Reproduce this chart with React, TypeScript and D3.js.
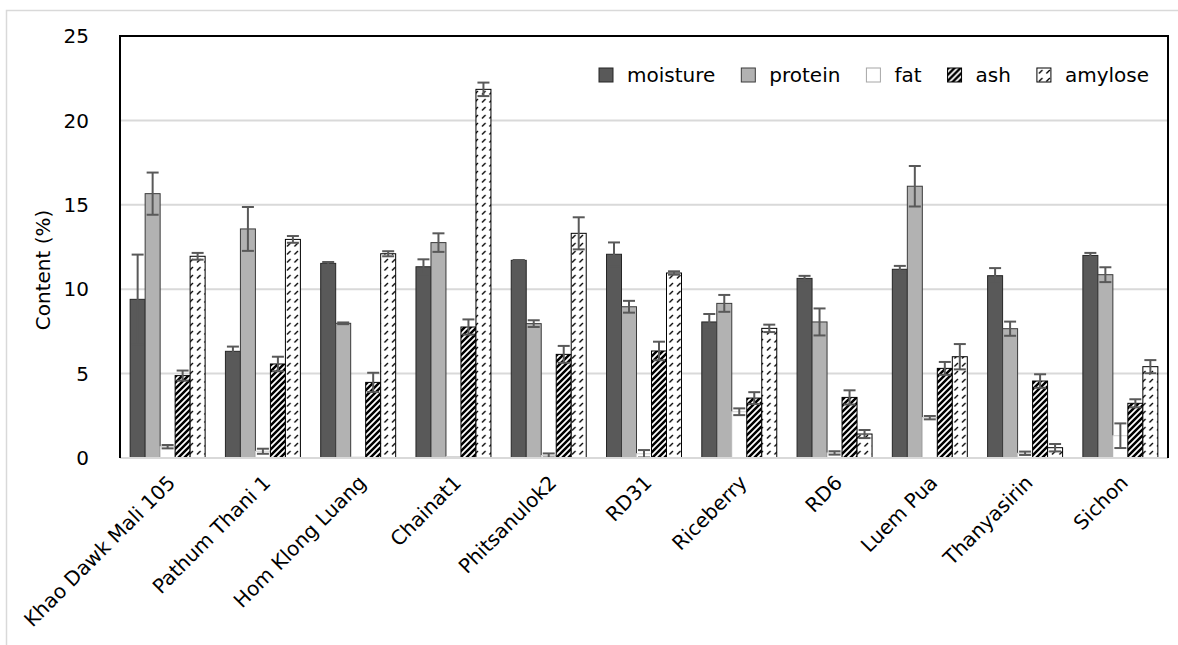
import * as d3 from "d3";
import { useEffect, useRef } from "react";

const categories = [
  "Khao Dawk Mali 105",
  "Pathum Thani 1",
  "Hom Klong Luang",
  "Chainat1",
  "Phitsanulok2",
  "RD31",
  "Riceberry",
  "RD6",
  "Luem Pua",
  "Thanyasirin",
  "Sichon",
];

const seriesNames = ["moisture", "protein", "fat", "ash", "amylose"];

const moisture = [9.4, 6.32, 11.53, 11.33, 11.71, 12.07, 8.06, 10.64, 11.18, 10.8, 12.0];
const moistureErr = [2.65, 0.28, 0.08, 0.44, 0.02, 0.7, 0.47, 0.15, 0.2, 0.45, 0.15];
const protein = [15.66, 13.57, 7.98, 12.76, 7.96, 8.96, 9.16, 8.06, 16.1, 7.66, 10.86];
const proteinErr = [1.25, 1.3, 0.05, 0.55, 0.2, 0.35, 0.5, 0.8, 1.2, 0.42, 0.44];
const fat = [0.67, 0.4, 0.05, 0.08, 0.15, 0.25, 2.74, 0.3, 2.39, 0.28, 1.32];
const fatErr = [0.1, 0.15, 0, 0, 0.12, 0.22, 0.2, 0.1, 0.1, 0.1, 0.73];
const ash = [4.88, 5.57, 4.48, 7.76, 6.14, 6.34, 3.55, 3.59, 5.31, 4.56, 3.24];
const ashErr = [0.3, 0.43, 0.57, 0.45, 0.5, 0.55, 0.35, 0.42, 0.38, 0.4, 0.24];
const amylose = [11.95, 12.95, 12.1, 21.84, 13.31, 10.96, 7.68, 1.42, 6.0, 0.61, 5.41];
const amyloseErr = [0.2, 0.2, 0.15, 0.4, 0.95, 0.1, 0.22, 0.24, 0.75, 0.22, 0.39];

const yTicks = [0, 5, 10, 15, 20, 25];

type Bar = { cat: string; series: string; value: number; err: number };

export default function App() {
  const svgRef = useRef<SVGSVGElement | null>(null);

  useEffect(() => {
    const svg = d3.select(svgRef.current);
    const width = 1178;
    const height = 645;
    const margin = { top: 36, right: 10, bottom: 187, left: 120 };
    const font = "'DejaVu Sans', sans-serif";

    svg.selectAll("*").remove();
    svg.attr("width", width).attr("height", height);

    const values: Record<string, number[][]> = {
      moisture: [moisture, moistureErr],
      protein: [protein, proteinErr],
      fat: [fat, fatErr],
      ash: [ash, ashErr],
      amylose: [amylose, amyloseErr],
    };

    const bars: Bar[] = [];
    categories.forEach((cat, i) => {
      seriesNames.forEach((s) => {
        bars.push({ cat, series: s, value: values[s][0][i], err: values[s][1][i] });
      });
    });

    // patterns
    const defs = svg.append("defs");
    const pAsh = defs
      .append("pattern")
      .attr("id", "pat-ash")
      .attr("patternUnits", "userSpaceOnUse")
      .attr("width", 6)
      .attr("height", 6);
    pAsh.append("rect").attr("width", 6).attr("height", 6).attr("fill", "#fff");
    pAsh
      .append("path")
      .attr("d", "M-1.5,1.5 L1.5,-1.5 M0,6 L6,0 M4.5,7.5 L7.5,4.5")
      .attr("stroke", "#000")
      .attr("stroke-width", 2.5);

    const pAmy = defs
      .append("pattern")
      .attr("id", "pat-amylose")
      .attr("patternUnits", "userSpaceOnUse")
      .attr("width", 7.5)
      .attr("height", 8);
    pAmy.append("rect").attr("width", 7.5).attr("height", 8).attr("fill", "#fff");
    pAmy
      .append("path")
      .attr("d", "M2,6.5 L5.5,3")
      .attr("stroke", "#000")
      .attr("stroke-width", 1.3);

    const fills: Record<string, string> = {
      moisture: "#595959",
      protein: "#b2b2b2",
      fat: "#ffffff",
      ash: "url(#pat-ash)",
      amylose: "url(#pat-amylose)",
    };
    const strokes: Record<string, string> = {
      moisture: "#262626",
      protein: "#3a3a3a",
      fat: "#d0d0d0",
      ash: "#000",
      amylose: "#000",
    };

    // outer chart frame
    svg
      .append("path")
      .attr("d", `M6.5,${height} L6.5,10.5 L${width},10.5`)
      .attr("fill", "none")
      .attr("stroke", "#d9d9d9")
      .attr("stroke-width", 1.5);

    const x0 = d3
      .scaleBand<string>()
      .domain(categories)
      .range([margin.left, width - margin.right])
      .paddingInner(0.213)
      .paddingOuter(0.1065);

    const x1 = d3
      .scaleBand<string>()
      .domain(seriesNames)
      .range([0, x0.bandwidth()]);

    const y = d3
      .scaleLinear()
      .domain([0, 25])
      .range([height - margin.bottom, margin.top]);

    // gridlines
    svg
      .selectAll(".grid")
      .data(yTicks.filter((t) => t > 0 && t < 25))
      .enter()
      .append("line")
      .attr("class", "grid")
      .attr("x1", margin.left)
      .attr("x2", width - margin.right)
      .attr("y1", (d) => y(d))
      .attr("y2", (d) => y(d))
      .attr("stroke", "#d9d9d9")
      .attr("stroke-width", 2);

    // y tick labels
    svg
      .selectAll(".ytick")
      .data(yTicks)
      .enter()
      .append("text")
      .attr("class", "ytick")
      .attr("x", 89)
      .attr("y", (d) => y(d))
      .attr("dy", "0.36em")
      .attr("text-anchor", "end")
      .attr("font-family", font)
      .attr("font-size", "20px")
      .attr("fill", "#000")
      .text((d) => d);

    // y title
    svg
      .append("text")
      .attr("transform", `translate(50,270) rotate(-90)`)
      .attr("text-anchor", "middle")
      .attr("font-family", font)
      .attr("font-size", "20px")
      .attr("fill", "#000")
      .text("Content (%)");

    // bars
    svg
      .selectAll(".bar")
      .data(bars)
      .enter()
      .append("rect")
      .attr("class", "bar")
      .attr("x", (d) => (x0(d.cat) as number) + (x1(d.series) as number))
      .attr("y", (d) => y(d.value))
      .attr("width", x1.bandwidth())
      .attr("height", (d) => y(0) - y(d.value))
      .attr("fill", (d) => fills[d.series])
      .attr("stroke", (d) => strokes[d.series])
      .attr("stroke-width", 1);

    // error bars
    const errs = bars.filter((d) => d.err > 0);
    const cx = (d: Bar) => (x0(d.cat) as number) + (x1(d.series) as number) + x1.bandwidth() / 2;
    const errColor = "#595959";
    const err = svg.append("g").attr("stroke", errColor).attr("stroke-width", 2);
    err
      .selectAll(".eline")
      .data(errs)
      .enter()
      .append("line")
      .attr("x1", cx)
      .attr("x2", cx)
      .attr("y1", (d) => y(Math.max(0, d.value - d.err)))
      .attr("y2", (d) => y(d.value + d.err));
    err
      .selectAll(".ecapt")
      .data(errs)
      .enter()
      .append("line")
      .attr("x1", (d) => cx(d) - 6)
      .attr("x2", (d) => cx(d) + 6)
      .attr("y1", (d) => y(d.value + d.err))
      .attr("y2", (d) => y(d.value + d.err));
    err
      .selectAll(".ecapb")
      .data(errs.filter((d) => d.value - d.err > 0))
      .enter()
      .append("line")
      .attr("x1", (d) => cx(d) - 6)
      .attr("x2", (d) => cx(d) + 6)
      .attr("y1", (d) => y(d.value - d.err))
      .attr("y2", (d) => y(d.value - d.err));

    // x axis line
    svg
      .append("line")
      .attr("x1", margin.left)
      .attr("x2", width - margin.right)
      .attr("y1", y(0))
      .attr("y2", y(0))
      .attr("stroke", "#d9d9d9")
      .attr("stroke-width", 2);

    // plot border (left, top, right)
    svg
      .append("path")
      .attr(
        "d",
        `M${margin.left},${y(0)} L${margin.left},${margin.top} L${width - margin.right},${margin.top} L${width - margin.right},${y(0)}`
      )
      .attr("fill", "none")
      .attr("stroke", "#000")
      .attr("stroke-width", 2);

    // x labels
    svg
      .selectAll(".xlabel")
      .data(categories)
      .enter()
      .append("text")
      .attr("class", "xlabel")
      .attr(
        "transform",
        (d) => `translate(${(x0(d) as number) + x0.bandwidth() / 2 + 4},${y(0) + 21}) rotate(-45)`
      )
      .attr("dy", "0.35em")
      .attr("text-anchor", "end")
      .attr("font-family", font)
      .attr("font-size", "20px")
      .attr("fill", "#000")
      .text((d) => d);

    // legend
    const legend = svg.append("g").attr("transform", "translate(599,75)");
    let lx = 0;
    seriesNames.forEach((s) => {
      const g = legend.append("g").attr("transform", `translate(${lx},0)`);
      g.append("rect")
        .attr("x", 0)
        .attr("y", -7)
        .attr("width", 14)
        .attr("height", 14)
        .attr("fill", fills[s])
        .attr("stroke", s === "fat" ? "#a6a6a6" : strokes[s])
        .attr("stroke-width", 1);
      const t = g
        .append("text")
        .attr("x", 28)
        .attr("y", 0)
        .attr("dy", "0.36em")
        .attr("font-family", font)
        .attr("font-size", "20px")
        .attr("fill", "#000")
        .text(s);
      const w = (t.node() as SVGTextElement).getComputedTextLength();
      lx += 28 + w + 26;
    });
  }, []);

  return (
    <svg
      ref={svgRef}
      style={{ position: "absolute", left: 0, top: 0, background: "#fff" }}
    ></svg>
  );
}
